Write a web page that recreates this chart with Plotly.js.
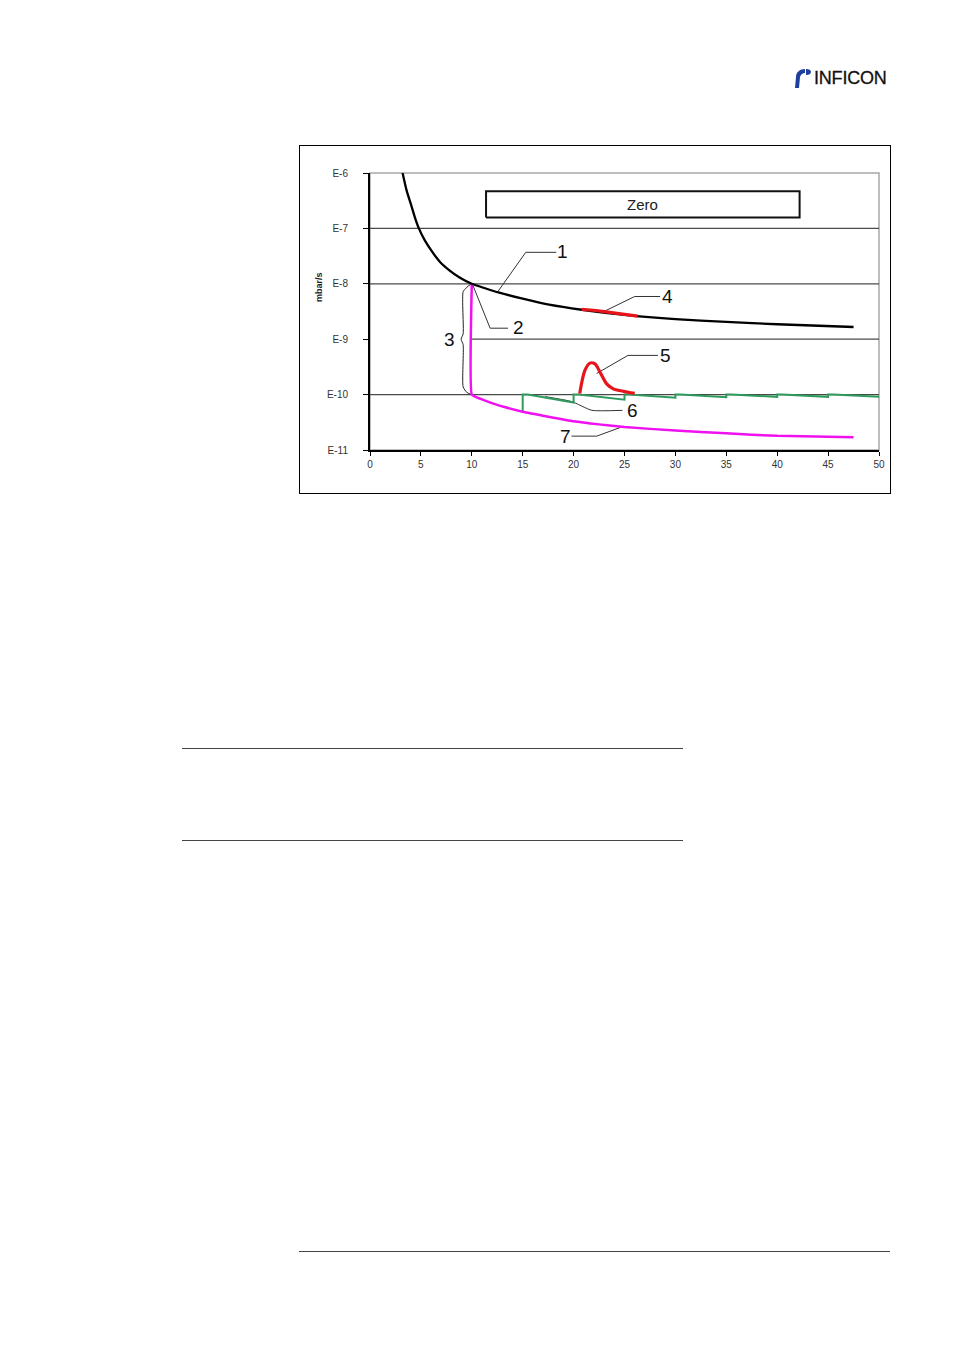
<!DOCTYPE html>
<html>
<head>
<meta charset="utf-8">
<script src="https://cdn.plot.ly/plotly-3.0.1.min.js"></script>
<style>
  html, body { margin: 0; padding: 0; background: #fff; }
  body { width: 954px; height: 1350px; position: relative; overflow: hidden; font-family: "Liberation Sans", Arial, sans-serif; }
  #frame { position: absolute; left: 299px; top: 145px; width: 590px; height: 347px; border: 1px solid #000; }
  #chart { position: absolute; left: 0; top: 0; width: 590px; height: 347px; }
  .rule { position: absolute; height: 0; border-top: 1px solid #444; }
  #logo { position: absolute; left: 794px; top: 66px; height: 24px; display: flex; align-items: center; }
  #logo span { font-family: "Liberation Sans", Arial, sans-serif; font-size: 18px; letter-spacing: -0.2px; color: #111; margin-left: 0px; -webkit-text-stroke: 0.3px #111; }
</style>
</head>
<body>
<div id="logo">
  <svg width="20" height="22" viewBox="0 0 20 22">
    <path d="M1 21 L5 21 L6 10 C7 7 9 6 11 6 L11 2 C6 2 2 5 2 10 Z" fill="#1f3f9f"/>
    <path d="M12 2 C15 2 17 3 17 5 C17 7 15 8 12 8 Z" fill="#1f3f9f"/>
  </svg>
  <span>INFICON</span>
</div>
<div id="frame"><div id="chart"></div></div>
<div class="rule" style="left:182px; top:748px; width:501px;"></div>
<div class="rule" style="left:182px; top:840px; width:501px;"></div>
<div class="rule" style="left:299px; top:1251px; width:591px;"></div>
<script>
// ---- data ----
const xTicks = [0, 5, 10, 15, 20, 25, 30, 35, 40, 45, 50];
const yTickVals = [1e-11, 1e-10, 1e-9, 1e-8, 1e-7, 1e-6];
const yTickText = ["E-11", "E-10", "E-9", "E-8", "E-7", "E-6"];

// 1: leak rate signal (black)
const signalX = [3.2, 3.6, 4.0, 4.4, 4.8, 5.4, 6.1, 6.9, 7.8, 8.8, 10, 11.3, 12.7, 15, 17.6, 20.8, 25, 30, 35, 40, 47.5];
const signalY = [1.0e-6, 4.8e-7, 2.8e-7, 1.6e-7, 1.0e-7, 6.0e-8, 3.8e-8, 2.45e-8, 1.75e-8, 1.3e-8, 1.0e-8, 8.3e-9, 6.9e-9, 5.4e-9, 4.2e-9, 3.4e-9, 2.75e-9, 2.3e-9, 2.05e-9, 1.86e-9, 1.66e-9];

// 4: small disturbance on the signal (red)
const dist4X = [20.8, 21.5, 22.2, 23, 24, 25, 26.3];
const dist4Y = [3.45e-9, 3.42e-9, 3.3e-9, 3.15e-9, 2.98e-9, 2.82e-9, 2.6e-9];

// 7: signal after zero (magenta)
const zeroedX = [10, 10, 10.5, 11.3, 12.2, 13.3, 15, 17.5, 20, 22.5, 25, 30, 35, 40, 47.5];
const zeroedY = [1e-8, 1e-10, 8.9e-11, 7.8e-11, 6.8e-11, 5.9e-11, 4.9e-11, 4.0e-11, 3.3e-11, 2.9e-11, 2.6e-11, 2.24e-11, 2.0e-11, 1.8e-11, 1.7e-11];

// 6: displayed value, periodically re-zeroed (green)
const displayX = [15, 15, 15.5, 20, 20, 20.5, 25, 25, 25.5, 30, 30, 30.5, 35, 35, 35.5, 40, 40, 40.5, 45, 45, 45.5, 50];
const displayY = [4.9e-11, 1e-10, 1e-10, 7.2e-11, 1e-10, 1e-10, 8.1e-11, 1e-10, 1e-10, 8.8e-11, 1e-10, 1e-10, 9.0e-11, 1e-10, 1e-10, 9.1e-11, 1e-10, 1e-10, 9.1e-11, 1e-10, 1e-10, 9.1e-11];

// 5: leak peak (red)
const peakX = [20.6, 21.1, 21.6, 22.1, 22.6, 23.25, 23.9, 24.85, 26.0];
const peakY = [1.05e-10, 2.7e-10, 3.7e-10, 3.58e-10, 2.53e-10, 1.56e-10, 1.27e-10, 1.15e-10, 1.05e-10];

// "Zero" box extents
const zeroBoxX = [11.4, 42.2];
const zeroBoxY = [1.58e-7, 4.7e-7];

// gridlines: decade values and x start (E-9 line starts at x=10)
const gridVals = [1e-10, 1e-9, 1e-8, 1e-7];
const gridStart = [0, 10, 0, 0];

// callout labels and their leader lines
const labels = ["1", "2", "3", "4", "5", "6", "7"];
const labelX = [18.9, 14.6, 7.8, 29.2, 29.0, 25.8, 19.2];
const labelY = [3.8e-8, 1.6e-9, 1.0e-9, 5.9e-9, 5.1e-10, 5.2e-11, 1.78e-11];
const leader1X = [12.48, 15.3, 18.3], leader1Y = [6.9e-9, 3.7e-8, 3.7e-8];
const leader2X = [10.05, 11.8, 13.55], leader2Y = [1.0e-8, 1.58e-9, 1.58e-9];
const leader4X = [23.1, 26.0, 28.5], leader4Y = [3.24e-9, 5.9e-9, 5.9e-9];
const leader5X = [22.27, 25.34, 28.29], leader5Y = [2.41e-10, 5.1e-10, 5.1e-10];
const leader6X = [17.2, 19.8, 21.8, 24.8], leader6Y = [9.2e-11, 7.5e-11, 5.2e-11, 5.2e-11];
const leader7X = [19.8, 22.27, 24.56], leader7Y = [1.78e-11, 1.78e-11, 2.54e-11];
const braceX = [9.95, 9.5, 9.15, 9.15, 8.95, 9.15, 9.15, 9.5, 9.95];
const braceY = [1.0e-8, 8.6e-9, 7.2e-9, 1.25e-9, 1.0e-9, 8.0e-10, 1.38e-10, 1.1e-10, 1.0e-10];

// ---- traces ----
const lead = {color: "#333", width: 1};
const traces = [];
gridVals.forEach((v, i) => {
  traces.push({x: [gridStart[i], xTicks[xTicks.length - 1]], y: [v, v], mode: "lines",
    line: {color: "#4a4a4a", width: 1.2}, hoverinfo: "skip"});
});
traces.push(
  {x: [zeroBoxX[0], zeroBoxX[1], zeroBoxX[1], zeroBoxX[0], zeroBoxX[0]],
   y: [zeroBoxY[0], zeroBoxY[0], zeroBoxY[1], zeroBoxY[1], zeroBoxY[0]], mode: "lines",
   line: {color: "#111", width: 2}, hoverinfo: "skip"},
  {x: braceX, y: braceY, mode: "lines", line: {color: "#222", width: 1, shape: "spline", smoothing: 0.6}, hoverinfo: "skip"},
  {x: leader1X, y: leader1Y, mode: "lines", line: lead, hoverinfo: "skip"},
  {x: leader2X, y: leader2Y, mode: "lines", line: lead, hoverinfo: "skip"},
  {x: leader4X, y: leader4Y, mode: "lines", line: lead, hoverinfo: "skip"},
  {x: leader5X, y: leader5Y, mode: "lines", line: lead, hoverinfo: "skip"},
  {x: leader6X, y: leader6Y, mode: "lines", line: {color: "#333", width: 1, shape: "spline", smoothing: 0.5}, hoverinfo: "skip"},
  {x: leader7X, y: leader7Y, mode: "lines", line: lead, hoverinfo: "skip"},
  {x: displayX, y: displayY, mode: "lines", line: {color: "#2e9a5c", width: 2}},
  {x: zeroedX, y: zeroedY, mode: "lines", line: {color: "#f010f0", width: 2.5, shape: "spline", smoothing: 0.4}},
  {x: signalX, y: signalY, mode: "lines", line: {color: "#000", width: 2.3, shape: "spline", smoothing: 0.6}},
  {x: dist4X, y: dist4Y, mode: "lines", line: {color: "#e8141c", width: 3.2}},
  {x: peakX, y: peakY, mode: "lines", line: {color: "#e8141c", width: 3.2, shape: "spline", smoothing: 0.8}}
);

const L = Math.log10;
const shapes = [
  {type: "rect", xref: "paper", yref: "paper", x0: 0, x1: 1, y0: 0, y1: 1, line: {color: "#a8a8a8", width: 1.5}, layer: "below"}
];

const annotations = labels.map((t, i) => ({
  x: labelX[i], y: L(labelY[i]), xref: "x", yref: "y", text: t, showarrow: false,
  font: {family: "Liberation Sans, Arial", size: 19, color: "#111"}, xanchor: "center", yanchor: "middle"
}));
annotations.push({x: (zeroBoxX[0] + zeroBoxX[1]) / 2, y: (L(zeroBoxY[0]) + L(zeroBoxY[1])) / 2, xref: "x", yref: "y",
  text: "Zero", showarrow: false, font: {family: "Liberation Sans, Arial", size: 15, color: "#222"}});
annotations.push({x: -0.114, y: 0.588, xref: "paper", yref: "paper", text: "<b>mbar/s</b>", textangle: -90, showarrow: false,
  font: {family: "Liberation Sans, Arial", size: 9, color: "#222"}});

const layout = {
  width: 590, height: 347,
  margin: {l: 70, r: 11, t: 27, b: 43},
  paper_bgcolor: "rgba(0,0,0,0)", plot_bgcolor: "#fff",
  showlegend: false,
  font: {family: "Liberation Sans, Arial", size: 10, color: "#333"},
  xaxis: {range: [0, 50], tickvals: xTicks, ticktext: xTicks.map(String), ticks: "outside", ticklen: 4, tickcolor: "#000",
    showgrid: false, zeroline: false, showline: true, linecolor: "#000", linewidth: 2,
    tickfont: {size: 10, color: "#333"}, fixedrange: true},
  yaxis: {type: "log", range: [-11, -6], tickvals: yTickVals, ticktext: yTickText, ticks: "outside", ticklen: 5, tickcolor: "#000",
    showgrid: false, zeroline: false, showline: true, linecolor: "#000", linewidth: 2, ticklabelstandoff: 13,
    tickfont: {size: 10, color: "#333"}, fixedrange: true},
  shapes: shapes,
  annotations: annotations
};

Plotly.newPlot("chart", traces, layout, {displayModeBar: false, staticPlot: true});
</script>
</body>
</html>
